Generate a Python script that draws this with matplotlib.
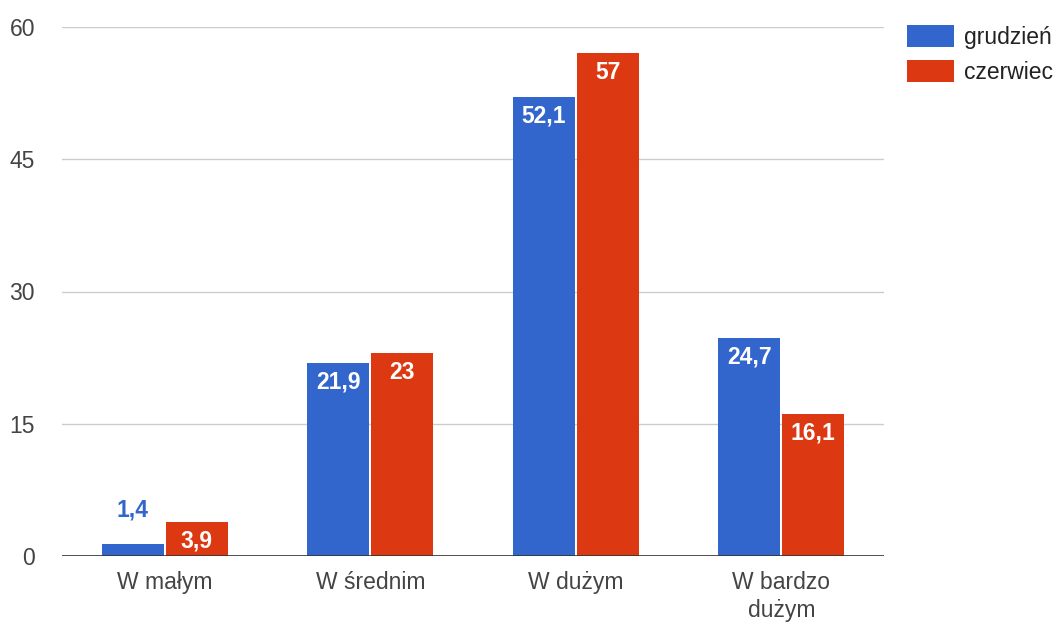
import matplotlib
matplotlib.use("Agg")
import matplotlib.pyplot as plt
import numpy as np

categories = ["W małym", "W średnim", "W dużym", "W bardzo\ndużym"]
series_names = ["grudzień", "czerwiec"]
grudzien = [1.4, 21.9, 52.1, 24.7]
czerwiec = [3.9, 23.0, 57.0, 16.1]
yticks = [0, 15, 30, 45, 60]
colors = ["#3366cc", "#dc3912"]

plt.rcParams['font.family'] = ['Liberation Sans', 'DejaVu Sans']

fig = plt.figure(figsize=(10.64, 6.24), dpi=100)
ax = fig.add_axes([62/1064, 1-556/624, (884-62)/1064, (556-27)/624])

x = np.arange(len(categories))
width = 0.30
offset = 0.156
FS = 16.5
LFS = 16.5

def fmt(v):
    if float(v).is_integer():
        return str(int(v))
    return f"{v:.1f}".replace('.', ',')

for vals, off, col, name in zip([grudzien, czerwiec], [-offset, offset], colors, series_names):
    bars = ax.bar(x + off, vals, width, color=col, label=name, zorder=3)
    for b, v in zip(bars, vals):
        cx = b.get_x() + b.get_width()/2
        if v < 3:
            ax.annotate(fmt(v), (cx, v), xytext=(0, 19.5), textcoords='offset points',
                        ha='center', va='baseline', color=col, fontsize=LFS, fontweight='bold')
        else:
            ax.annotate(fmt(v), (cx, v), xytext=(0, -5.5), textcoords='offset points',
                        ha='center', va='top', color='white', fontsize=LFS, fontweight='bold',
                        zorder=4)

ax.set_xlim(-0.5, 3.5)
ax.set_ylim(0, 60)
ax.set_yticks(yticks)
ax.set_yticklabels([str(t) for t in yticks])
ax.set_xticks(x)
ax.set_xticklabels(categories, linespacing=1.25)
ax.grid(axis='y', color='#cccccc', linewidth=1, zorder=0)
ax.axhline(0, color='#333333', linewidth=1.2, zorder=5)
for s in ax.spines.values():
    s.set_visible(False)
ax.tick_params(axis='both', length=0, labelsize=FS, labelcolor='#444444')
ax.tick_params(axis='y', pad=19.5)
ax.tick_params(axis='x', pad=11)
for lbl in ax.get_yticklabels():
    lbl.set_horizontalalignment('right')

fig.legend(loc='upper left', bbox_to_anchor=(907/1064, 1-25/624), frameon=False,
           fontsize=FS, handlelength=2.05, handleheight=1.1, handletextpad=0.45,
           labelspacing=0.5, borderpad=0, borderaxespad=0, labelcolor='#222222')

fig.savefig("out.png", dpi=100)
